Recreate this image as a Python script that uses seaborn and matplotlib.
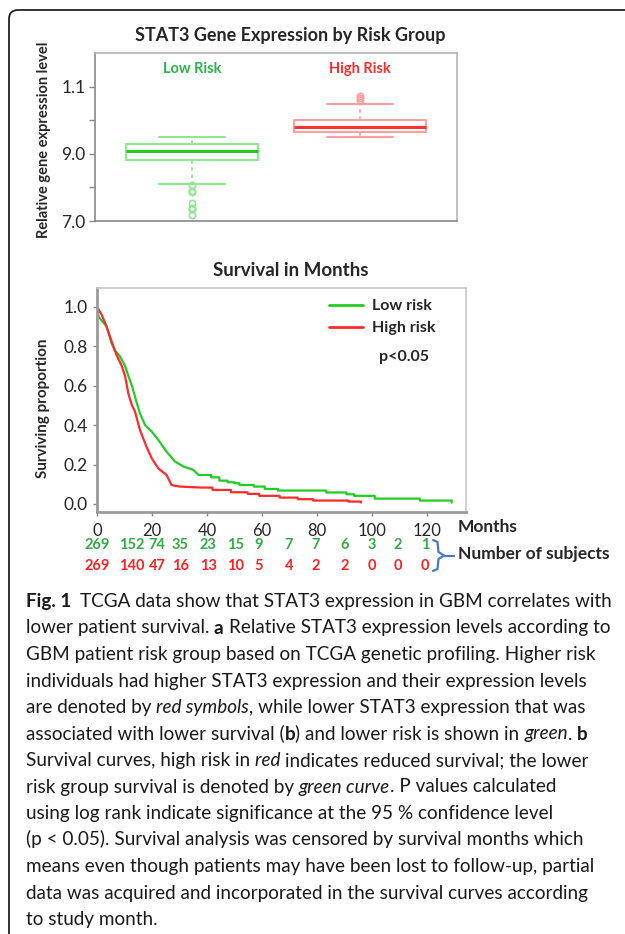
import matplotlib
matplotlib.use("Agg")
import matplotlib.pyplot as plt
import matplotlib.transforms as mtransforms
from matplotlib.patches import FancyBboxPatch
from matplotlib.lines import Line2D
import numpy as np
import pandas as pd
import seaborn as sns

# ---- box plot data ----
groups = ["Low Risk", "High Risk"]
box_med = [9.08, 9.81]
box_q1 = [8.82, 9.64]
box_q3 = [9.30, 10.01]
box_lo = [8.10, 9.50]
box_hi = [9.50, 10.49]
low_fliers = [8.06, 7.88, 7.85, 7.55, 7.39, 7.35, 7.17]
high_fliers = [10.71, 10.65, 10.61]

# ---- survival curves (corners of the steps in the tail are listed twice) ----
low_months = [0, 0.6, 3.5, 5.3, 6.5, 8.4, 10.2, 11.4, 12.7, 13.8, 15.6, 17.5, 19.9, 22.3,
              25.3, 28.4, 31.4, 35, 36.9,
              41.5, 41.5, 44.5, 44.5, 47.5, 47.5, 50, 50, 51.8, 51.8, 57, 57, 61, 61,
              65.8, 65.8, 83.4, 83.4, 90.7, 90.7, 93.5, 93.5, 101, 101, 117.4, 117.4, 129, 129]
low_surv = [1.0, 0.95, 0.90, 0.815, 0.78, 0.748, 0.70, 0.65, 0.60, 0.545, 0.46, 0.40, 0.367,
            0.325, 0.265, 0.215, 0.19, 0.173, 0.147,
            0.147, 0.135, 0.135, 0.118, 0.118, 0.11, 0.11, 0.105, 0.105, 0.096, 0.096, 0.088,
            0.088, 0.076, 0.076, 0.068, 0.068, 0.058, 0.058, 0.049, 0.049, 0.041, 0.041,
            0.027, 0.027, 0.017, 0.017, 0.007]
high_months = [0, 1.7, 3.5, 5.3, 7.1, 9, 10.2, 11.4, 12.7, 13.8, 15.6, 18, 19.9, 22.3,
               25.3, 27.1, 30.1, 38,
               42, 42, 48.7, 48.7, 54.8, 54.8, 59, 59, 66.4, 66.4, 73, 73, 78.6, 78.6,
               91.4, 91.4, 96, 96]
high_surv = [1.0, 0.96, 0.90, 0.825, 0.756, 0.70, 0.65, 0.56, 0.50, 0.47, 0.376, 0.29, 0.232,
             0.18, 0.147, 0.096, 0.088, 0.083,
             0.083, 0.071, 0.071, 0.059, 0.059, 0.051, 0.051, 0.041, 0.041, 0.032, 0.032,
             0.024, 0.024, 0.017, 0.017, 0.012, 0.012, 0.007]

# number at risk table
subj_low = [269, 152, 74, 35, 23, 15, 9, 7, 7, 6, 3, 2, 1]
subj_high = [269, 140, 47, 16, 13, 10, 5, 4, 2, 2, 0, 0, 0]
subj_at = [0, 12.7, 21.8, 30.2, 40.4, 50.5, 58.9, 69.8, 79.6, 90.2, 100, 109.5, 119.3]

caption = [
    [("Fig. 1  ", "b"), ("TCGA data show that STAT3 expression in GBM correlates with", "n")],
    [("lower patient survival. ", "n"), ("a ", "b"), ("Relative STAT3 expression levels according to", "n")],
    [("GBM patient risk group based on TCGA genetic profiling. Higher risk", "n")],
    [("individuals had higher STAT3 expression and their expression levels", "n")],
    [("are denoted by ", "n"), ("red symbols", "i"), (", while lower STAT3 expression that was", "n")],
    [("associated with lower survival (", "n"), ("b", "b"), (") and lower risk is shown in ", "n"),
     ("green", "i"), (". ", "n"), ("b", "b")],
    [("Survival curves, high risk in ", "n"), ("red ", "i"), ("indicates reduced survival; the lower", "n")],
    [("risk group survival is denoted by ", "n"), ("green curve", "i"), (". P values calculated", "n")],
    [("using log rank indicate significance at the 95 % confidence level", "n")],
    [("(p < 0.05). Survival analysis was censored by survival months which", "n")],
    [("means even though patients may have been lost to follow-up, partial", "n")],
    [("data was acquired and incorporated in the survival curves according", "n")],
    [("to study month.", "n")],
]

GREEN = "#22cc22"
RED = "#ff2a2a"

sns.set_style("white")
plt.rcParams["font.family"] = ["Lato", "DejaVu Sans"]

W, H = 625, 934
fig = plt.figure(figsize=(W / 100, H / 100), dpi=100)


def rect(l, t, r, b):
    return [l / W, 1 - b / H, (r - l) / W, (b - t) / H]


# outer frame
frame = FancyBboxPatch((9, -30), 700, 934 - 10 + 30, boxstyle="round,pad=0,rounding_size=9",
                       transform=mtransforms.IdentityTransform(), fill=False, lw=1.3, ec="#222222")
fig.patches.append(frame)

# ================= box plot =================
ax1 = fig.add_axes(rect(95, 53, 457, 221))
colors_light = ["#8ee88e", "#ff9f9f"]
colors_dark = [GREEN, "#ff3030"]
flier_sets = [low_fliers, high_fliers]
for i in range(2):
    st = dict(med=box_med[i], q1=box_q1[i], q3=box_q3[i], whislo=box_lo[i], whishi=box_hi[i],
              fliers=flier_sets[i], label=groups[i])
    ax1.bxp([st], positions=[i + 1], widths=0.79, showfliers=True,
            boxprops=dict(color=colors_light[i], lw=1.5),
            medianprops=dict(color=colors_dark[i], lw=2.2),
            whiskerprops=dict(color=colors_light[i], lw=1.3, linestyle=(0, (2, 2))),
            capprops=dict(color=colors_light[i], lw=1.5),
            flierprops=dict(marker="o", markerfacecolor="none", markeredgecolor=colors_light[i],
                            markeredgewidth=1.2, markersize=4.5))
ax1.set_xlim(0.422, 2.577)
ax1.set_ylim(7, 12)
ax1.set_xticks([])
ax1.set_yticks([7, 8, 9, 10, 11])
ax1.set_yticklabels(["7.0", "", "9.0", "", "1.1"])
ax1.tick_params(axis="y", left=True, direction="out", length=4, width=1, color="#888888",
                labelsize=12.5, pad=3)
for s in ax1.spines.values():
    s.set_color("#b5b5b5")
    s.set_linewidth(1.2)
ax1.spines["left"].set_color("#888888")
ax1.spines["bottom"].set_color("#888888")
ax1.text(1, 11.52, "Low Risk", color="#2ab34a", fontsize=10.5, fontweight="bold", ha="center", va="center")
ax1.text(2, 11.52, "High Risk", color="#ff2a2a", fontsize=10.5, fontweight="bold", ha="center", va="center")

fig.text(290 / W, 1 - 35 / H, "STAT3 Gene Expression by Risk Group", fontsize=13,
         fontweight="bold", ha="center", va="center")
fig.text(44 / W, 1 - 140 / H, "Relative gene expression level", fontsize=10.5,
         fontweight="bold", rotation=90, ha="center", va="center")

# ================= survival =================
ax2 = fig.add_axes(rect(97, 288, 466, 512))
surv = pd.concat([
    pd.DataFrame({"month": low_months, "surv": low_surv, "group": "Low risk"}),
    pd.DataFrame({"month": high_months, "surv": high_surv, "group": "High risk"}),
])
sns.lineplot(data=surv, x="month", y="surv", hue="group", palette={"Low risk": GREEN, "High risk": RED},
             lw=1.6, legend=False, ax=ax2, estimator=None, sort=False)
ax2.set_xlim(0, 134.2)
ax2.set_ylim(-0.041, 1.096)
ax2.set_xticks(range(0, 121, 20))
ax2.set_yticks([0, 0.2, 0.4, 0.6, 0.8, 1.0])
ax2.set_yticklabels(["0.0", "0.2", "0.4", "0.6", "0.8", "1.0"])
ax2.set_xlabel("")
ax2.set_ylabel("")
ax2.tick_params(direction="out", length=3, width=1, color="#888888", labelsize=12.5, pad=4,
                left=True, bottom=True)
ax2.tick_params(axis="x", labelsize=12, pad=5)
for s in ax2.spines.values():
    s.set_color("#c8c8c8")
    s.set_linewidth(1.2)
ax2.spines["left"].set_color("#999999")
ax2.spines["left"].set_linewidth(2)
ax2.spines["bottom"].set_color("#999999")
ax2.spines["bottom"].set_linewidth(2)

handles = [Line2D([0], [0], color=GREEN, lw=2), Line2D([0], [0], color=RED, lw=2)]
leg = ax2.legend(handles, ["Low risk", "High risk"], loc="upper left",
                 bbox_to_anchor=((329 - 97) / 369, (512 - 299) / 224), frameon=False,
                 prop=dict(weight="bold", size=11.5), handlelength=2.1, handletextpad=0.6,
                 labelspacing=0.5, borderpad=0, borderaxespad=0)
ax2.text((379 - 97) / 369, (512 - 357) / 224, "p<0.05", transform=ax2.transAxes, fontsize=11.5,
         fontweight="bold", ha="left", va="center")

fig.text(291 / W, 1 - 271 / H, "Survival in Months", fontsize=13.5, fontweight="bold",
         ha="center", va="center")
fig.text(43 / W, 1 - 408 / H, "Surviving proportion", fontsize=11, fontweight="bold",
         rotation=90, ha="center", va="center")
fig.text(458 / W, 1 - 527 / H, "Months", fontsize=12.5, fontweight="bold", ha="left", va="center")

tr = mtransforms.blended_transform_factory(ax2.transData, fig.transFigure)
for m, a, b in zip(subj_at, subj_low, subj_high):
    ax2.text(m, 1 - 545 / H, str(a), transform=tr, color="#33aa44", fontsize=10.5,
             fontweight="bold", ha="center", va="center", clip_on=False)
    ax2.text(m, 1 - 566 / H, str(b), transform=tr, color="#ff2020", fontsize=10.5,
             fontweight="bold", ha="center", va="center", clip_on=False)

# blue brace
px = [433, 437.5, 438.5, 444, 438.5, 437.5, 433]
py = [540, 542, 552, 555.5, 559, 569, 571]
fig.add_artist(Line2D([x / W for x in px], [1 - y / H for y in py], color="#4a78c8", lw=1.6))
fig.add_artist(Line2D([444 / W, 454 / W], [1 - 555.5 / H] * 2, color="#4a78c8", lw=1.6))
fig.text(458 / W, 1 - 554 / H, "Number of subjects", fontsize=12.5, fontweight="bold",
         ha="left", va="center")

# ================= caption =================
renderer = fig.canvas.get_renderer()
styles = {"n": dict(), "b": dict(fontweight="bold"), "i": dict(fontstyle="italic")}
cap_size = 13.6


def seg_width(txt, kw):
    a = fig.text(0, 0, "|" + txt + "|", fontsize=cap_size, **kw)
    b = fig.text(0, 0, "||", fontsize=cap_size, **kw)
    w = a.get_window_extent(renderer).width - b.get_window_extent(renderer).width
    a.remove()
    b.remove()
    return w


for i, line in enumerate(caption):
    x = 26.0
    y = 607 + 26.5 * i
    for txt, st in line:
        fig.text(x / W, 1 - y / H, txt, fontsize=cap_size, color="#1a1a1a", ha="left",
                 va="baseline", **styles[st])
        x += seg_width(txt, styles[st])

fig.savefig("out.png", dpi=100)
